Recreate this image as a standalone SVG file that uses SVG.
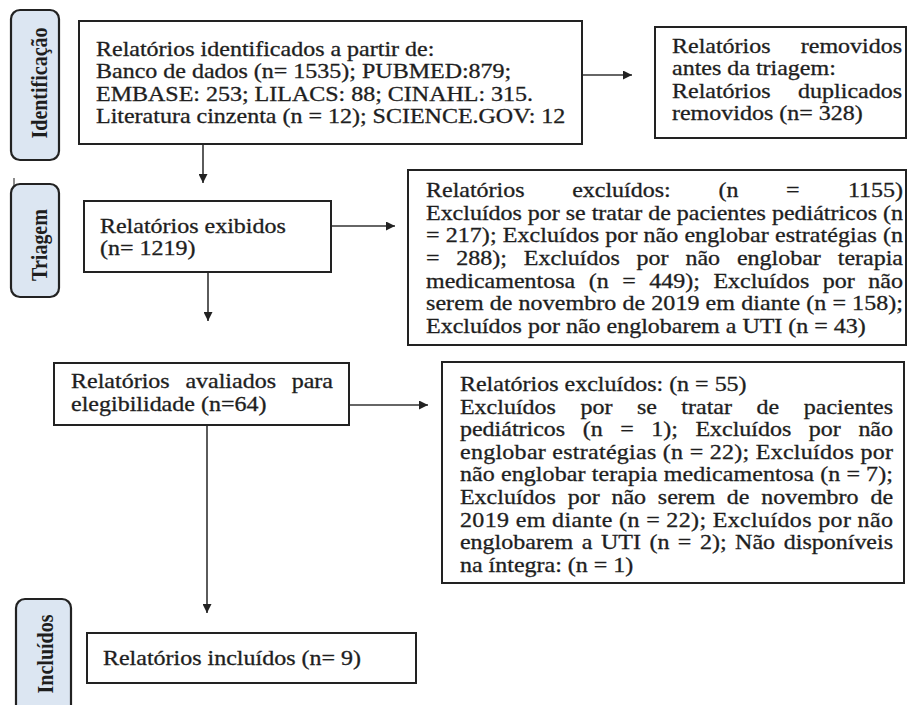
<svg xmlns="http://www.w3.org/2000/svg" width="908" height="705" viewBox="0 0 908 705">
<style>
.bg{fill:#ffffff}
.box{fill:#ffffff;stroke:#222;stroke-width:2}
.lab{fill:#dce6f2;stroke:#222;stroke-width:2.2}
.t{font-family:"Liberation Serif","Times New Roman",serif;font-size:20px;fill:#1e1e1e;stroke:#1e1e1e;stroke-width:0.3}
.lt{font-family:"Liberation Serif","Times New Roman",serif;font-size:20px;font-weight:bold;fill:#1e1e1e;text-anchor:middle}
.e{text-anchor:end}
.c{fill:none;stroke:#333;stroke-width:1.6}
</style>
<defs>
<marker id="ah" viewBox="0 0 10 10" refX="10" refY="5" markerWidth="12" markerHeight="9" markerUnits="userSpaceOnUse" orient="auto">
<path d="M0,0 L10,5 L0,10 Z" fill="#222"/>
</marker>
</defs>
<rect class="bg" x="0" y="0" width="908" height="705"/>

<g id="label-identificacao">
<rect class="lab" x="11" y="10" width="48" height="150" rx="9"/>
<text class="lt" transform="translate(47,83) scale(1.2 1) rotate(-90)">Identificação</text>
</g>
<g id="label-triagem">
<line x1="14" y1="178" x2="14" y2="192" stroke="#666" stroke-width="1.5"/>
<rect class="lab" x="11" y="184" width="48" height="113" rx="9"/>
<text class="lt" transform="translate(47,245) scale(1.2 1) rotate(-90)">Triagem</text>
</g>
<g id="label-incluidos">
<rect class="lab" x="16" y="599" width="55" height="120" rx="9"/>
<text class="lt" transform="translate(53,654) scale(1.2 1) rotate(-90)">Incluídos</text>
</g>

<g id="connectors">
<line class="c" x1="203" y1="144" x2="203" y2="183" marker-end="url(#ah)"/>
<line class="c" x1="582" y1="75" x2="632" y2="75" marker-end="url(#ah)"/>
<line class="c" x1="331" y1="226" x2="395" y2="226" marker-end="url(#ah)"/>
<line class="c" x1="208" y1="272" x2="208" y2="321" marker-end="url(#ah)"/>
<line class="c" x1="349" y1="405" x2="428" y2="405" marker-end="url(#ah)"/>
<line class="c" x1="207" y1="425" x2="207" y2="613" marker-end="url(#ah)"/>
</g>

<g id="node-identificados">
<rect class="box" x="79" y="21" width="503" height="123"/>
<g transform="scale(1.2 1)">
<text class="t" x="80" y="56">Relatórios identificados a partir de:</text>
<text class="t" x="80" y="78.5">Banco de dados (n= 1535); PUBMED:879;</text>
<text class="t" x="80" y="101">EMBASE: 253; LILACS: 88; CINAHL: 315.</text>
<text class="t" x="80" y="123.5">Literatura cinzenta (n = 12); SCIENCE.GOV: 12</text>
</g>
</g>

<g id="node-removidos">
<rect class="box" x="655" y="27" width="251" height="111"/>
<g transform="scale(1.2 1)">
<text class="t" y="53"><tspan x="560">Relatórios</tspan><tspan class="e" x="751.7">removidos</tspan></text>
<text class="t" x="560" y="75">antes da triagem:</text>
<text class="t" y="98"><tspan x="560">Relatórios</tspan><tspan class="e" x="751.7">duplicados</tspan></text>
<text class="t" x="560" y="120">removidos (n= 328)</text>
</g>
</g>

<g id="node-exibidos">
<rect class="box" x="84" y="201" width="247" height="71"/>
<g transform="scale(1.2 1)">
<text class="t" x="83.3" y="233">Relatórios exibidos</text>
<text class="t" x="83.3" y="255">(n= 1219)</text>
</g>
</g>

<g id="node-excluidos-triagem">
<rect class="box" x="408" y="170" width="498" height="175"/>
<g transform="scale(1.2 1)">
<text class="t" y="197"><tspan x="355">Relatórios</tspan><tspan x="476.8">excluídos:</tspan><tspan x="598.7">(n</tspan><tspan x="655">=</tspan><tspan class="e" x="752.5">1155)</tspan></text>
<text class="t" x="355" y="219.7" textLength="397.5" lengthAdjust="spacing">Excluídos por se tratar de pacientes pediátricos (n</text>
<text class="t" x="355" y="242.4" textLength="397.5" lengthAdjust="spacing">= 217); Excluídos por não englobar estratégias (n</text>
<text class="t" y="265.1"><tspan x="355">=</tspan><tspan x="380.3">288);</tspan><tspan x="436.5">Excluídos</tspan><tspan x="530.5">por</tspan><tspan x="571.2">não</tspan><tspan x="614.1">englobar</tspan><tspan class="e" x="752.5">terapia</tspan></text>
<text class="t" y="287.8"><tspan x="355">medicamentosa</tspan><tspan x="490.6">(n</tspan><tspan x="518.5">=</tspan><tspan x="541">449);</tspan><tspan x="594.5">Excluídos</tspan><tspan x="685.7">por</tspan><tspan class="e" x="752.5">não</tspan></text>
<text class="t" x="355" y="310.5" textLength="397.5" lengthAdjust="spacing">serem de novembro de 2019 em diante (n = 158);</text>
<text class="t" x="355" y="333.2">Excluídos por não englobarem a UTI (n = 43)</text>
</g>
</g>

<g id="node-avaliados">
<rect class="box" x="54" y="363" width="295" height="62"/>
<g transform="scale(1.2 1)">
<text class="t" y="388"><tspan x="59.2">Relatórios</tspan><tspan x="154.5">avaliados</tspan><tspan class="e" x="277.5">para</tspan></text>
<text class="t" x="59.2" y="411">elegibilidade (n=64)</text>
</g>
</g>

<g id="node-excluidos-elegibilidade">
<rect class="box" x="442" y="362" width="462" height="221"/>
<g transform="scale(1.2 1)">
<text class="t" x="383.3" y="391">Relatórios excluídos: (n = 55)</text>
<text class="t" y="413.6"><tspan x="383.3">Excluídos</tspan><tspan x="483.7">por</tspan><tspan x="530.8">se</tspan><tspan x="567.8">tratar</tspan><tspan x="630.4">de</tspan><tspan class="e" x="744.2">pacientes</tspan></text>
<text class="t" y="436.2"><tspan x="383.3">pediátricos</tspan><tspan x="485.6">(n</tspan><tspan x="516.8">=</tspan><tspan x="542.7">1);</tspan><tspan x="579.5">Excluídos</tspan><tspan x="674">por</tspan><tspan class="e" x="744.2">não</tspan></text>
<text class="t" x="383.3" y="458.8" textLength="360.8" lengthAdjust="spacing">englobar estratégias (n = 22); Excluídos por</text>
<text class="t" x="383.3" y="481.4" textLength="360.8" lengthAdjust="spacing">não englobar terapia medicamentosa (n = 7);</text>
<text class="t" y="504"><tspan x="383.3">Excluídos</tspan><tspan x="473.1">por</tspan><tspan x="509.5">não</tspan><tspan x="548.2">serem</tspan><tspan x="605.7">de</tspan><tspan x="634.4">novembro</tspan><tspan class="e" x="744.2">de</tspan></text>
<text class="t" x="383.3" y="526.6" textLength="360.8" lengthAdjust="spacing">2019 em diante (n = 22); Excluídos por não</text>
<text class="t" y="549.2"><tspan x="383.3">englobarem</tspan><tspan x="484.8">a</tspan><tspan x="500.8">UTI</tspan><tspan x="541.2">(n</tspan><tspan x="564.9">=</tspan><tspan x="583.3">2);</tspan><tspan x="612.6">Não</tspan><tspan class="e" x="744.2">disponíveis</tspan></text>
<text class="t" x="383.3" y="571.8">na íntegra: (n = 1)</text>
</g>
</g>

<g id="node-incluidos">
<rect class="box" x="87" y="633" width="329" height="50"/>
<g transform="scale(1.2 1)">
<text class="t" x="85.8" y="665">Relatórios incluídos (n= 9)</text>
</g>
</g>
</svg>
